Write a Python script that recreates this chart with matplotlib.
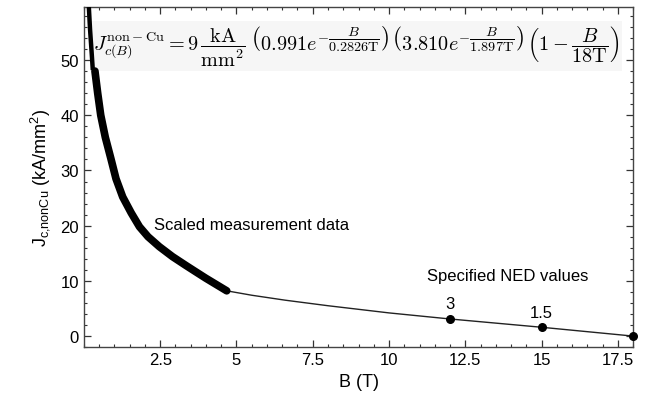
import matplotlib

matplotlib.use("Agg")

import matplotlib.pyplot as plt
from matplotlib.ticker import MultipleLocator

plt.rcParams["font.family"] = ["Liberation Sans", "DejaVu Sans"]
plt.rcParams["mathtext.fontset"] = "custom"
plt.rcParams["mathtext.rm"] = "Liberation Sans"
plt.rcParams["mathtext.it"] = "Liberation Sans:italic"

# steep upper part of the measured curve
top_b = [0.16, 0.2, 0.25, 0.29]
top_j = [59.6, 55.5, 51.5, 48.2]

# scaled measurement data (thick band)
meas_b = [0.36, 0.45, 0.55, 0.7, 0.88, 1.05, 1.27, 1.55, 1.82, 2.1, 2.47, 2.9, 3.34, 3.65, 3.99, 4.35, 4.68]
meas_j = [48.0, 44.0, 40.0, 36.0, 32.2, 28.5, 25.2, 22.3, 19.8, 18.0, 16.2, 14.4, 12.8, 11.7, 10.5, 9.3, 8.2]

# fitted curve towards high field
fit_b = [4.68, 5.5, 6.6, 8.0, 10.0, 12.0, 15.0, 18.0]
fit_j = [8.2, 7.4, 6.5, 5.5, 4.2, 3.1, 1.6, 0.0]

# specified NED values
ned_b = [12.0, 15.0, 18.0]
ned_j = [3.1, 1.6, 0.0]
ned_labels = ["3", "1.5", ""]

formula = (
    r"$J_{c(B)}^{\mathrm{non-Cu}} = 9\,\dfrac{\mathrm{kA}}{\mathrm{mm}^2}\;"
    r"\left(0.991e^{-\dfrac{B}{0.2826\mathrm{T}}}\right)\,"
    r"\left(3.810e^{-\dfrac{B}{1.897\mathrm{T}}}\right)\,"
    r"\left(1-\dfrac{B}{18\mathrm{T}}\right)$"
)

fig = plt.figure(figsize=(6.56, 4.02), dpi=100)
ax = fig.add_axes((0.128, 0.134, 0.837, 0.846))

ax.plot(fit_b, fit_j, color="#222222", linewidth=1.0, zorder=2)
ax.plot(top_b, top_j, color="black", linewidth=3.2, solid_capstyle="butt", zorder=6)
ax.plot(meas_b, meas_j, color="black", linewidth=5.5, solid_capstyle="round",
        solid_joinstyle="round", zorder=6)
ax.scatter(ned_b, ned_j, s=30, color="black", zorder=4, clip_on=False)
for b, j, lab in zip(ned_b, ned_j, ned_labels):
    ax.text(b, j + 1.4, lab, ha="center", va="bottom", fontsize=12)

ax.text(2.3, 20.3, "Scaled measurement data", fontsize=12, va="center")
ax.text(13.9, 10.9, "Specified NED values", fontsize=12, ha="center", va="center")

ax.text(
    0.3, 52.6, formula, math_fontfamily="cm", fontsize=14.6, va="center",
    bbox=dict(boxstyle="square,pad=0.15", facecolor="#f6f6f6", edgecolor="none"),
    zorder=5,
)

ax.set_xlim(0, 18)
ax.set_ylim(-2, 59.6)
ax.set_xticks([2.5, 5, 7.5, 10, 12.5, 15, 17.5])
ax.set_xticklabels(["2.5", "5", "7.5", "10", "12.5", "15", "17.5"])
ax.set_yticks([0, 10, 20, 30, 40, 50])
ax.xaxis.set_minor_locator(MultipleLocator(0.5))
ax.yaxis.set_minor_locator(MultipleLocator(2))
ax.tick_params(which="both", direction="in", top=True, right=True, labelsize=12, color="#333333")
ax.tick_params(which="major", length=5, width=0.9)
ax.tick_params(which="minor", length=2.5, width=0.8)
for side in ax.spines.values():
    side.set_color("#444444")
    side.set_linewidth(1.0)

ax.set_xlabel("B (T)", fontsize=13, labelpad=4)
ax.set_ylabel(r"J$_\mathregular{c{,}nonCu}$ (kA/mm$^\mathregular{2}$)", fontsize=13, labelpad=6)

fig.savefig("out.png", dpi=100)
